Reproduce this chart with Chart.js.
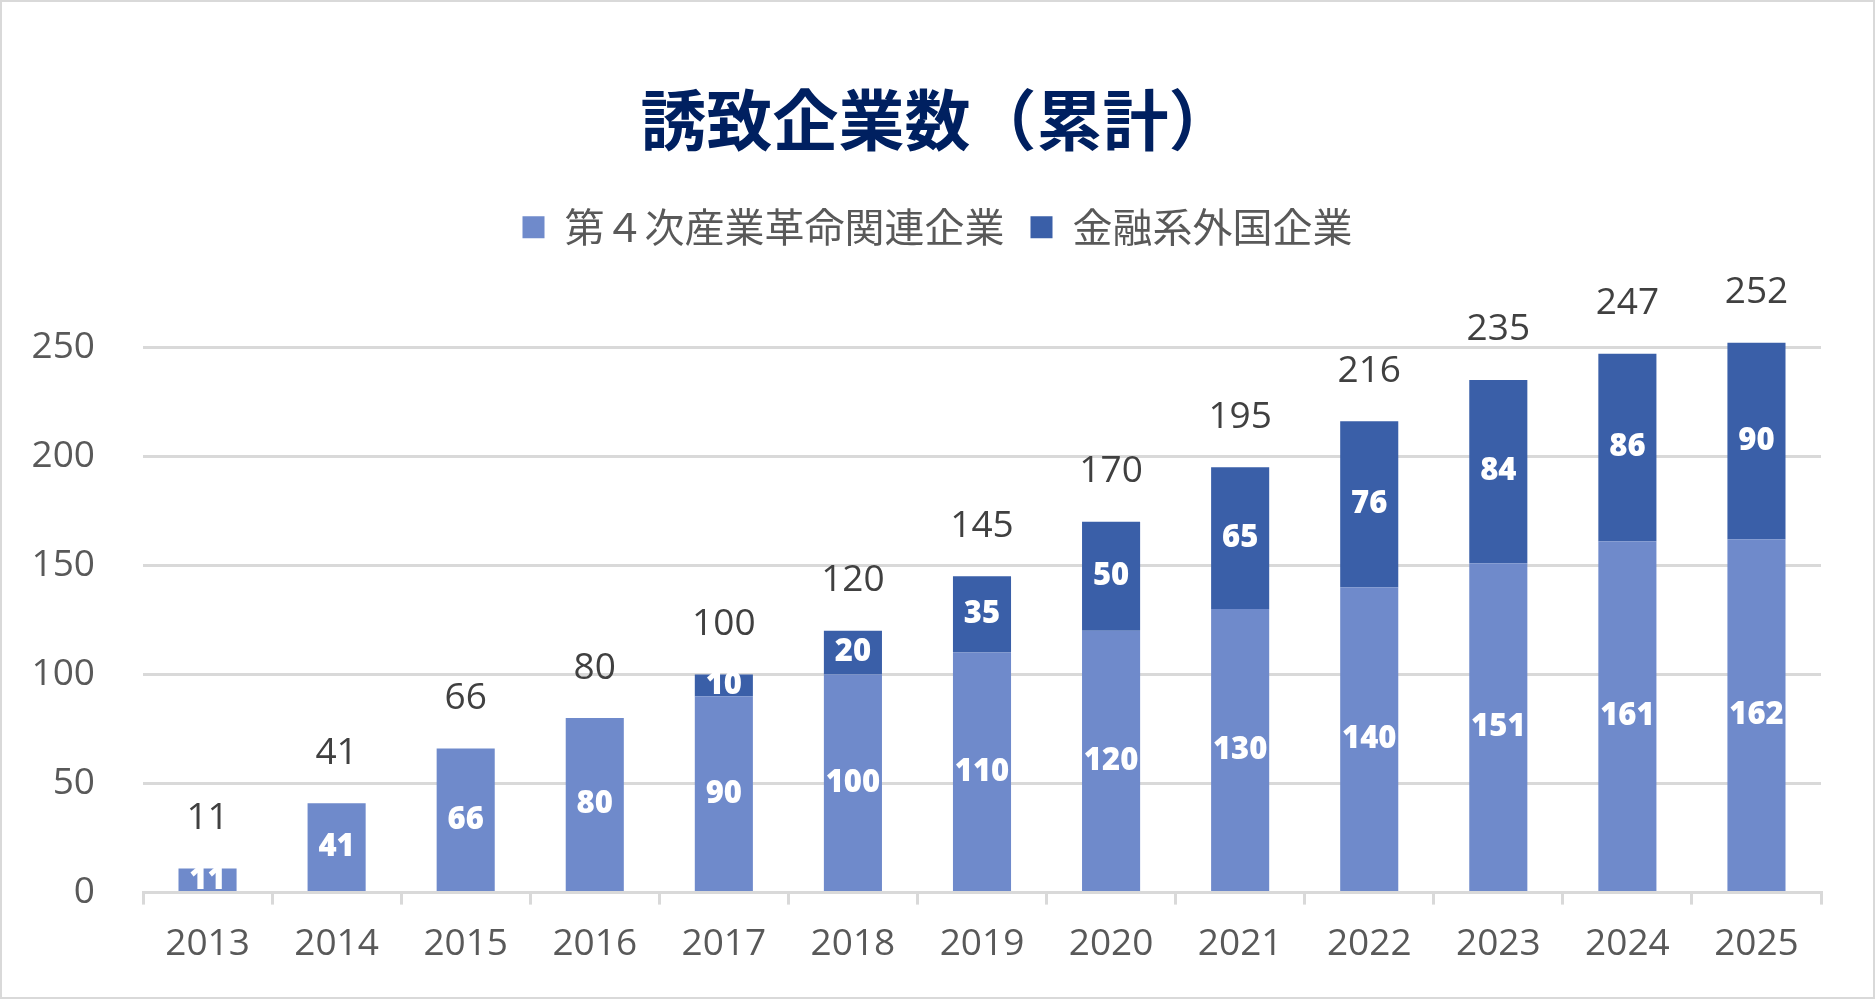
<!DOCTYPE html>
<html>
<head>
<meta charset="utf-8">
<script src="https://cdn.jsdelivr.net/npm/chart.js@4.4.1/dist/chart.umd.min.js"></script>
<style>
  html, body { margin: 0; padding: 0; background: #fff; }
  #wrap { width: 1875px; height: 999px; box-sizing: border-box; border: 2px solid #d9d9d9; }
  canvas { display: block; }
</style>
</head>
<body>
<div id="wrap"><canvas id="chart" width="1871" height="995"></canvas></div>
<script>
const years = ['2013', '2014', '2015', '2016', '2017', '2018', '2019', '2020', '2021', '2022', '2023', '2024', '2025'];
const industry4 = [11, 41, 66, 80, 90, 100, 110, 120, 130, 140, 151, 161, 162];
const finance = [0, 0, 0, 0, 10, 20, 35, 50, 65, 76, 84, 86, 90];
const totals = [11, 41, 66, 80, 100, 120, 145, 170, 195, 216, 235, 247, 252];
const yTicks = [0, 50, 100, 150, 200, 250];

const NUM_FONT = '"Open Sans", "Noto Sans CJK JP", sans-serif';
const JP_FONT = '"Noto Sans CJK JP", sans-serif';

// white numbers inside segments + dark totals above each stack
const barLabels = {
  id: 'barLabels',
  afterDatasetsDraw(chart) {
    const ctx = chart.ctx;
    ctx.save();
    ctx.textAlign = 'center';
    ctx.textBaseline = 'middle';
    ctx.font = '800 31px ' + NUM_FONT;
    ctx.fillStyle = '#ffffff';
    chart.data.datasets.forEach((ds, d) => {
      const meta = chart.getDatasetMeta(d);
      meta.data.forEach((bar, i) => {
        if (!ds.data[i]) return;
        ctx.fillText(ds.data[i], bar.x, (bar.y + bar.base) / 2);
      });
    });
    const y = chart.scales.y;
    const meta0 = chart.getDatasetMeta(0);
    ctx.font = '37px ' + NUM_FONT;
    ctx.fillStyle = '#404040';
    totals.forEach((t, i) => {
      ctx.fillText(t, meta0.data[i].x, y.getPixelForValue(t) - 50);
    });
    ctx.restore();
  }
};

// extra room between legend and plot, and centre title/legend on the canvas
const headerFix = {
  id: 'headerFix',
  beforeInit(chart) {
    const fit = chart.legend.fit;
    chart.legend.fit = function () {
      fit.bind(chart.legend)();
      this.height += 90;
    };
  },
  afterLayout(chart) {
    const s = 12;
    [chart.titleBlock, chart.legend].forEach(b => { b.left += s; b.right += s; });
  }
};

new Chart(document.getElementById('chart'), {
  type: 'bar',
  data: {
    labels: years,
    datasets: [
      { label: '第４次産業革命関連企業', data: industry4, backgroundColor: '#6f8acb', clip: false },
      { label: '金融系外国企業', data: finance, backgroundColor: '#3a5fa8', clip: false }
    ]
  },
  options: {
    responsive: false,
    animation: false,
    events: [],
    layout: { autoPadding: false, padding: { top: 78, left: 28, right: 52, bottom: 12 } },
    datasets: { bar: { categoryPercentage: 1, barPercentage: 0.45 } },
    plugins: {
      title: {
        display: true,
        text: '誘致企業数（累計）',
        color: '#002060',
        font: { family: JP_FONT, size: 66, weight: 'bold' },
        padding: { top: 0, bottom: 22 }
      },
      legend: {
        position: 'top',
        labels: {
          color: '#595959',
          font: { family: JP_FONT, size: 40 },
          boxWidth: 22, boxHeight: 22,
          padding: 26
        }
      },
      tooltip: { enabled: false }
    },
    scales: {
      x: {
        stacked: true,
        grid: { display: true, drawOnChartArea: false, drawTicks: true, tickLength: 12, color: '#d9d9d9', lineWidth: 3 },
        border: { display: true, color: '#d9d9d9', width: 3 },
        ticks: { color: '#595959', font: { family: NUM_FONT, size: 37 }, padding: 18 }
      },
      y: {
        stacked: true,
        min: 0,
        max: 250,
        afterBuildTicks: (axis) => { axis.ticks = yTicks.map(v => ({ value: v })); },
        afterFit: (axis) => { axis.width = 113; },
        grid: { color: '#d9d9d9', lineWidth: 3, drawTicks: false },
        border: { display: false },
        ticks: { color: '#595959', font: { family: NUM_FONT, size: 37 }, padding: 48 }
      }
    }
  },
  plugins: [barLabels, headerFix]
});
</script>
</body>
</html>
